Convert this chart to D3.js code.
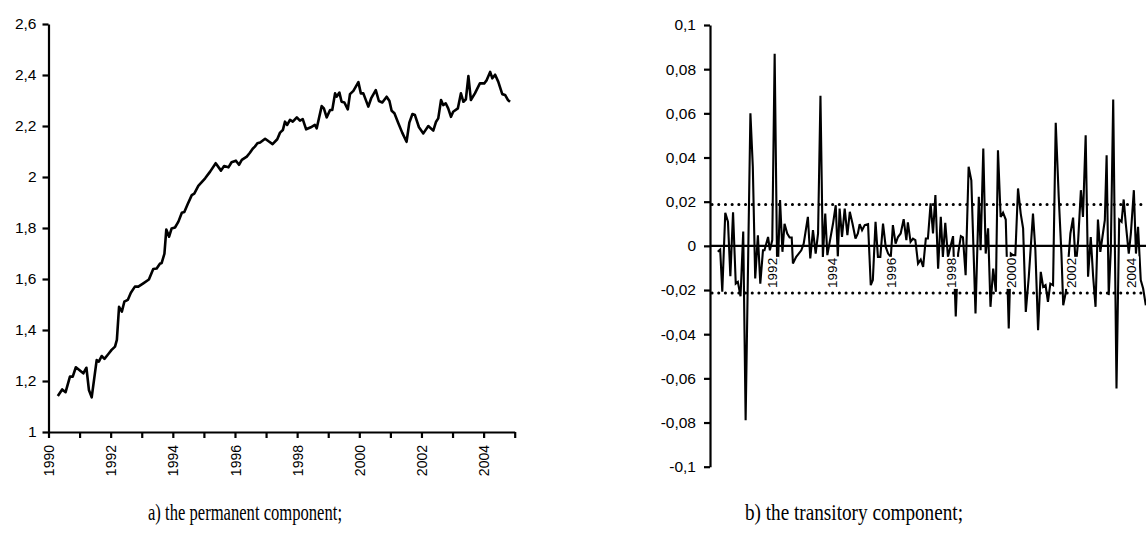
<!DOCTYPE html>
<html>
<head>
<meta charset="utf-8">
<script src="https://cdn.jsdelivr.net/npm/d3@7"></script>
<style>
  html, body { margin: 0; padding: 0; background: #fff; }
  svg { display: block; }
  .ax text { font-family: "Liberation Sans", Arial, sans-serif; fill: #000; }
  .cap { font-family: "Liberation Serif", "Times New Roman", serif; fill: #000; }
</style>
</head>
<body>
<svg id="chart" width="1146" height="534"></svg>
<script>
// ---------- DATA ----------
// a) permanent component (decimal year, value)
const permYears = [1990.30,1990.44,1990.55,1990.69,1990.78,1990.88,1991.12,1991.22,1991.30,1991.39,1991.55,1991.62,1991.71,1991.80,1991.92,1992.03,1992.14,1992.20,1992.27,1992.36,1992.44,1992.55,1992.65,1992.78,1992.89,1993.05,1993.23,1993.37,1993.48,1993.59,1993.64,1993.73,1993.79,1993.88,1993.96,1994.07,1994.18,1994.29,1994.37,1994.48,1994.61,1994.69,1994.82,1995.04,1995.20,1995.38,1995.55,1995.65,1995.79,1995.89,1996.03,1996.13,1996.22,1996.38,1996.48,1996.57,1996.64,1996.72,1996.81,1996.97,1997.07,1997.21,1997.36,1997.45,1997.54,1997.61,1997.68,1997.77,1997.86,1997.99,1998.09,1998.18,1998.29,1998.44,1998.57,1998.63,1998.79,1998.86,1998.95,1999.06,1999.13,1999.22,1999.27,1999.36,1999.43,1999.52,1999.63,1999.70,1999.81,1999.97,2000.05,2000.13,2000.29,2000.38,2000.53,2000.63,2000.74,2000.88,2000.97,2001.04,2001.13,2001.25,2001.38,2001.52,2001.61,2001.71,2001.79,2001.92,2002.06,2002.22,2002.38,2002.47,2002.54,2002.63,2002.70,2002.78,2002.86,2002.95,2003.02,2003.17,2003.27,2003.35,2003.43,2003.51,2003.59,2003.72,2003.88,2004.02,2004.10,2004.21,2004.28,2004.37,2004.47,2004.60,2004.69,2004.78,2004.85];
const permValues = [1.141,1.167,1.156,1.217,1.217,1.254,1.230,1.252,1.165,1.136,1.282,1.276,1.298,1.287,1.305,1.322,1.335,1.361,1.491,1.472,1.511,1.518,1.546,1.570,1.570,1.583,1.598,1.639,1.641,1.661,1.662,1.699,1.794,1.766,1.798,1.802,1.825,1.860,1.863,1.894,1.929,1.935,1.965,1.995,2.021,2.054,2.025,2.043,2.038,2.058,2.064,2.048,2.067,2.080,2.095,2.111,2.119,2.132,2.135,2.150,2.141,2.129,2.148,2.174,2.184,2.217,2.204,2.224,2.217,2.234,2.221,2.227,2.187,2.195,2.204,2.191,2.278,2.269,2.234,2.263,2.263,2.328,2.315,2.331,2.295,2.292,2.265,2.325,2.338,2.372,2.328,2.328,2.276,2.308,2.341,2.298,2.292,2.315,2.298,2.260,2.250,2.213,2.174,2.138,2.213,2.247,2.243,2.195,2.171,2.200,2.182,2.217,2.230,2.302,2.282,2.289,2.269,2.236,2.256,2.269,2.328,2.295,2.305,2.396,2.302,2.328,2.367,2.367,2.380,2.412,2.387,2.401,2.374,2.325,2.322,2.302,2.295];

// b) transitory component (decimal year, value)
const transYears = [1990.21,1990.29,1990.36,1990.46,1990.55,1990.63,1990.72,1990.81,1990.88,1990.97,1991.06,1991.14,1991.30,1991.38,1991.46,1991.55,1991.63,1991.72,1991.77,1991.89,1991.95,1992.03,1992.11,1992.20,1992.29,1992.37,1992.44,1992.53,1992.61,1992.68,1992.72,1992.83,1993.00,1993.08,1993.22,1993.30,1993.39,1993.48,1993.56,1993.64,1993.72,1993.80,1993.87,1993.95,1994.06,1994.15,1994.22,1994.28,1994.36,1994.45,1994.54,1994.62,1994.71,1994.81,1994.89,1994.95,1995.03,1995.12,1995.23,1995.32,1995.39,1995.48,1995.56,1995.64,1995.73,1995.82,1995.90,1995.99,1996.06,1996.15,1996.23,1996.32,1996.42,1996.51,1996.56,1996.65,1996.73,1996.81,1996.90,1996.99,1997.07,1997.16,1997.23,1997.32,1997.40,1997.48,1997.57,1997.66,1997.73,1997.81,1997.90,1997.98,1998.07,1998.16,1998.24,1998.33,1998.40,1998.49,1998.59,1998.68,1998.82,1998.93,1998.99,1999.08,1999.16,1999.24,1999.32,1999.41,1999.50,1999.57,1999.66,1999.74,1999.83,1999.93,2000.00,2000.07,2000.15,2000.24,2000.33,2000.41,2000.50,2000.60,2000.74,2000.82,2000.91,2001.00,2001.08,2001.16,2001.24,2001.32,2001.41,2001.50,2001.60,2001.69,2001.75,2001.84,2001.91,2001.99,2002.08,2002.17,2002.25,2002.34,2002.41,2002.50,2002.58,2002.67,2002.75,2002.83,2002.91,2002.99,2003.06,2003.14,2003.20,2003.27,2003.34,2003.42,2003.53,2003.62,2003.70,2003.77,2003.84,2003.94,2004.01,2004.11,2004.18,2004.25,2004.34,2004.42,2004.51];
const transValues = [-0.0027,-0.0017,-0.0208,0.0150,0.0109,-0.0137,0.0152,-0.0171,-0.0163,-0.0228,0.0065,-0.0790,0.0600,0.0358,-0.0148,0.0048,-0.0171,-0.0020,-0.0020,0.0040,-0.0020,0.0026,0.0870,-0.0178,0.0207,-0.0027,0.0100,0.0056,0.0038,0.0038,-0.0080,-0.0050,-0.0020,0.0010,0.0131,-0.0057,0.0071,-0.0035,0.0056,0.0680,-0.0050,0.0146,-0.0042,0.0018,0.0101,0.0184,-0.0050,0.0169,0.0040,0.0169,0.0048,0.0154,0.0101,0.0033,0.0056,0.0098,0.0071,0.0094,0.0098,-0.0178,-0.0155,0.0109,-0.0050,-0.0050,0.0101,-0.0005,-0.0035,-0.0050,0.0094,0.0010,0.0040,0.0056,0.0121,0.0026,0.0106,0.0018,0.0033,0.0026,-0.0080,-0.0062,-0.0095,0.0033,0.0033,0.0192,0.0056,0.0230,-0.0103,0.0131,-0.0050,0.0104,-0.0050,-0.0005,0.0044,-0.0320,-0.0035,0.0044,0.0038,-0.0133,0.0358,0.0297,-0.0306,0.0222,-0.0020,0.0441,-0.0035,0.0079,-0.0276,-0.0103,-0.0208,0.0433,0.0131,0.0150,0.0119,-0.0374,-0.0035,-0.0042,-0.0042,0.0260,0.0146,0.0079,-0.0299,-0.0140,0.0146,-0.0020,-0.0382,-0.0118,-0.0186,-0.0178,-0.0254,-0.0171,-0.0178,0.0557,0.0222,-0.0035,-0.0269,-0.0208,-0.0088,0.0056,0.0128,-0.0095,0.0026,0.0252,0.0131,0.0501,-0.0140,0.0040,-0.0140,-0.0276,0.0119,-0.0027,0.0040,0.0116,0.0410,-0.0223,-0.0020,0.0663,-0.0646,0.0119,0.0109,0.0210,0.0101,-0.0035,0.0056,0.0252,-0.0035,0.0086,-0.0155,-0.0193,-0.0269];

// bands (dotted lines) of the transitory component
const bandValues = [0.0187, -0.0213];

// tick values and labels
const permYTicks = [1, 1.2, 1.4, 1.6, 1.8, 2, 2.2, 2.4, 2.6];
const permYLabels = ["1", "1,2", "1,4", "1,6", "1,8", "2", "2,2", "2,4", "2,6"];
const permXTicks = [1990,1991,1992,1993,1994,1995,1996,1997,1998,1999,2000,2001,2002,2003,2004,2005];
const permXLabels = ["1990","","1992","","1994","","1996","","1998","","2000","","2002","","2004",""];
const transYTicks = [-0.1,-0.08,-0.06,-0.04,-0.02,0,0.02,0.04,0.06,0.08,0.1];
const transYLabels = ["-0,1","-0,08","-0,06","-0,04","-0,02","0","0,02","0,04","0,06","0,08","0,1"];
const transXTicks = [1992,1994,1996,1998,2000,2002,2004];
const transXLabels = ["1992","1994","1996","1998","2000","2002","2004"];
const captions = ["a) the permanent component;", "b) the transitory component;"];

// ---------- DRAW ----------
const svg = d3.select("#chart");

// ---- Left chart ----
const xL = d3.scaleLinear().domain([1990, 2005]).range([48.5, 514.7]);
const yL = d3.scaleLinear().domain([1, 2.6]).range([432, 24]);

const gL = svg.append("g");
const axYL = gL.append("g").attr("class", "ax").attr("transform", "translate(48.5,0)")
  .call(d3.axisLeft(yL).tickValues(permYTicks).tickFormat((d, i) => permYLabels[i])
    .tickSize(6).tickSizeOuter(0).tickPadding(6));
axYL.selectAll("text").style("font-size", "15.5px");

const axXL = gL.append("g").attr("class", "ax").attr("transform", "translate(0,432)")
  .call(d3.axisBottom(xL).tickValues(permXTicks).tickFormat((d, i) => permXLabels[i])
    .tickSize(6).tickSizeOuter(0));
axXL.selectAll("text")
  .style("font-size", "14px")
  .attr("transform", "rotate(-90)")
  .attr("text-anchor", "end")
  .attr("x", -13).attr("y", 0).attr("dy", "0.36em");

[axYL, axXL].forEach(a => {
  a.select(".domain").attr("stroke", "#000").attr("stroke-width", 2.2);
  a.selectAll(".tick line").attr("stroke", "#000").attr("stroke-width", 2.2);
});

const lineL = d3.line().x((d, i) => xL(permYears[i])).y(d => yL(d));
gL.append("path").datum(permValues)
  .attr("d", lineL).attr("fill", "none").attr("stroke", "#000")
  .attr("stroke-width", 2.6).attr("stroke-linejoin", "round");

// ---- Right chart ----
const yAxisXR = 710;
const xR = d3.scaleLinear().domain([1990, 2005]).range([711.5, 1160.5]);
const yR = d3.scaleLinear().domain([-0.1, 0.1]).range([466.7, 25]);

const gR = svg.append("g");
const axYR = gR.append("g").attr("class", "ax").attr("transform", `translate(${yAxisXR},0)`)
  .call(d3.axisLeft(yR).tickValues(transYTicks).tickFormat((d, i) => transYLabels[i])
    .tickSize(6).tickSizeOuter(0).tickPadding(8));
axYR.selectAll("text").style("font-size", "15.5px");
axYR.select(".domain").attr("stroke", "#000").attr("stroke-width", 2.2);
axYR.selectAll(".tick line").attr("stroke", "#000").attr("stroke-width", 2.2);

// dotted band lines
gR.selectAll("line.band").data(bandValues).enter().append("line")
  .attr("class", "band")
  .attr("x1", yAxisXR + 2).attr("x2", 1146)
  .attr("y1", d => yR(d)).attr("y2", d => yR(d))
  .attr("stroke", "#000").attr("stroke-width", 3)
  .attr("stroke-linecap", "round").attr("stroke-dasharray", "0.1,6.6");

// series
const lineR = d3.line().x((d, i) => xR(transYears[i])).y(d => yR(d));
gR.append("path").datum(transValues)
  .attr("d", lineR).attr("fill", "none").attr("stroke", "#000")
  .attr("stroke-width", 2.1).attr("stroke-linejoin", "miter").attr("stroke-miterlimit", 3);

// zero axis line
const axXR = gR.append("g").attr("class", "ax").attr("transform", `translate(0,${yR(0)})`)
  .call(d3.axisBottom(xR).tickValues(transXTicks).tickFormat((d, i) => transXLabels[i])
    .tickSize(0).tickSizeOuter(0));
axXR.select(".domain").attr("stroke", "#000").attr("stroke-width", 2.2)
  .attr("d", `M${yAxisXR},0H1146`);
axXR.selectAll(".tick text")
  .style("font-size", "13.5px")
  .attr("transform", "rotate(-90)")
  .attr("text-anchor", "end")
  .attr("x", -12).attr("y", 0).attr("dy", "0.36em");
// white backing boxes behind the labels
axXR.selectAll(".tick").each(function () {
  const t = d3.select(this).select("text");
  const b = t.node().getBBox();
  d3.select(this).insert("rect", "text")
    .attr("transform", "rotate(-90)")
    .attr("x", b.x - 1).attr("y", b.y).attr("width", b.width + 2).attr("height", b.height)
    .attr("fill", "#fff");
});

// ---- Captions ----
svg.append("text").attr("class", "cap")
  .attr("x", 148).attr("y", 520).style("font-size", "24px")
  .attr("textLength", 194).attr("lengthAdjust", "spacingAndGlyphs")
  .text(captions[0]);
svg.append("text").attr("class", "cap")
  .attr("x", 745).attr("y", 520).style("font-size", "24px")
  .attr("textLength", 218).attr("lengthAdjust", "spacingAndGlyphs")
  .text(captions[1]);
</script>
</body>
</html>
